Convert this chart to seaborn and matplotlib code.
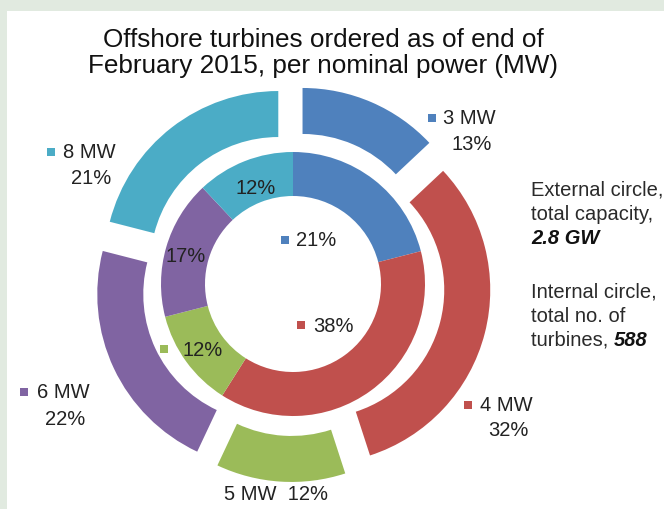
import matplotlib
matplotlib.use("Agg")
import matplotlib.pyplot as plt
from matplotlib.patches import Rectangle
import seaborn as sns

# Turbine classes and their shares
sizes = ["3 MW", "4 MW", "5 MW", "6 MW", "8 MW"]
capacity_share = [13, 32, 12, 22, 21]   # outer ring: share of 2.8 GW ordered capacity
turbine_share = [21, 38, 12, 17, 12]    # inner ring: share of 588 turbines
total_capacity = "2.8 GW"
total_turbines = "588"
title = "Offshore turbines ordered as of end of\nFebruary 2015, per nominal power (MW)"

palette = ["#4F81BD", "#C0504D", "#9BBB59", "#8064A2", "#4BACC6"]

sns.set_theme(style="white")
plt.rcParams["font.family"] = ["Liberation Sans", "DejaVu Sans"]

W, H = 664, 510
fig = plt.figure(figsize=(W / 100, H / 100), dpi=100, facecolor="#e1eae0")
ax = fig.add_axes([0, 0, 1, 1])
ax.axis("off")


def P(x, y):
    """Pixel position measured from the top-left corner -> data coords."""
    return (x, H - y)


# white panel inside the tinted frame
ax.add_patch(Rectangle((7, 0), W - 7, H - 12, facecolor="white",
                       edgecolor="none", zorder=0))

center = P(293, 285)
r_outer, w_outer, shift = 174, 46, 24
r_inner, w_inner = 132, 44

# outer ring: exploded segments (explode is an absolute offset in data units)
ax.pie(capacity_share, radius=r_outer, center=center, startangle=90,
       counterclock=False, colors=palette,
       explode=[shift] * len(capacity_share),
       wedgeprops=dict(width=w_outer, edgecolor="none"), frame=True)
# inner ring
ax.pie(turbine_share, radius=r_inner, center=center, startangle=90,
       counterclock=False, colors=palette,
       wedgeprops=dict(width=w_inner, edgecolor="none"), frame=True)

ax.set_xlim(0, W)
ax.set_ylim(0, H)

txt = "#222222"
fs = 14.5


def keyed(x_sq, x_txt, y, label, color):
    ax.scatter(*P(x_sq, y), marker="s", s=38, color=color, zorder=5,
               linewidths=0)
    ax.text(*P(x_txt, y), label, ha="left", va="center", fontsize=fs,
            color=txt, zorder=5)


def center_text(x, y, label):
    ax.text(*P(x, y), label, ha="center", va="center", fontsize=fs,
            color=txt, zorder=5)


# outer ring labels (capacity)
keyed(432, 443, 119, sizes[0], palette[0])
center_text(472, 145, f"{capacity_share[0]}%")
keyed(468, 480, 406, sizes[1], palette[1])
center_text(508, 431, f"{capacity_share[1]}%")
center_text(276, 495, f"{sizes[2]}  {capacity_share[2]}%")
keyed(24, 37, 393, sizes[3], palette[3])
center_text(65, 420, f"{capacity_share[3]}%")
keyed(51, 63, 153, sizes[4], palette[4])
center_text(91, 178, f"{capacity_share[4]}%")

# inner ring labels (turbine count)
keyed(285, 296, 241, f"{turbine_share[0]}%", palette[0])
keyed(301, 313, 326, f"{turbine_share[1]}%", palette[1])
keyed(164, 182, 350, f"{turbine_share[2]}%", palette[2])
center_text(186, 257, f"{turbine_share[3]}%")
center_text(256, 188, f"{turbine_share[4]}%")

# title
ax.text(*P(323, 53), title, ha="center", va="center", fontsize=18.8,
        color="#111111", linespacing=1.08, zorder=5)

# side notes
side_x = 531
note = "#2a2a2a"
for y, line in [(190, "External circle,"), (214, "total capacity,")]:
    ax.text(*P(side_x, y), line, ha="left", va="center", fontsize=fs,
            color=note)
ax.text(*P(side_x, 238), total_capacity, ha="left", va="center",
        fontsize=fs, color="#111111", fontweight="bold", fontstyle="italic")
for y, line in [(292, "Internal circle,"), (316, "total no. of")]:
    ax.text(*P(side_x, y), line, ha="left", va="center", fontsize=fs,
            color=note)
t = ax.text(*P(side_x, 340), "turbines, ", ha="left", va="center",
            fontsize=fs, color=note)
ax.annotate(total_turbines, xy=(1, 0.5), xycoords=t, ha="left", va="center",
            fontsize=fs, color="#111111", fontweight="bold",
            fontstyle="italic")

fig.savefig("out.png", dpi=100, facecolor=fig.get_facecolor())
